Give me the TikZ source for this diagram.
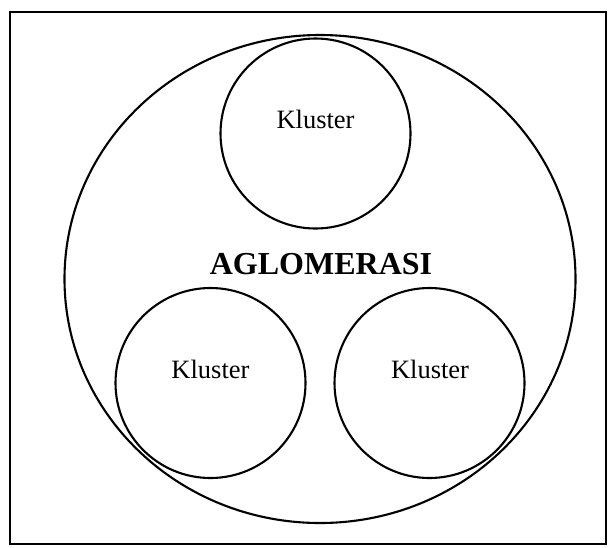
\documentclass[tikz,border=0pt]{standalone}
\usepackage{fontspec}
\setmainfont{Liberation Serif}
\usetikzlibrary{shapes.geometric}
\begin{document}
\begin{tikzpicture}[x=1pt,y=-1pt,
  frame/.style={line width=2.4pt},
  outer/.style={draw, ellipse, line width=2.1pt, minimum width=511pt, minimum height=488pt, inner sep=0pt},
  ring/.style={draw, circle, line width=2.1pt, minimum size=190pt, inner sep=0pt},
  lbl/.style={font=\fontsize{26.5}{30}\selectfont, inner sep=0pt, anchor=base},
  title/.style={font=\bfseries\fontsize{32}{36}\selectfont, inner sep=0pt, anchor=base}]
\useasboundingbox (0,0) rectangle (609,547);
\draw[frame] (10,12) rectangle (606,544);
\node[outer] (agl) at (320,279) {};
\node[ring] (k1) at (315.5,133.5) {};
\node[ring] (k2) at (210.5,383) {};
\node[ring] (k3) at (429.5,383) {};
\node[lbl] (t1) at (315.5,128) {Kluster};
\node[lbl] (t2) at (210.5,378) {Kluster};
\node[lbl] (t3) at (430,378) {Kluster};
\node[title] (ta) at (321,274.3) {AGLOMERASI};
\end{tikzpicture}
\end{document}
